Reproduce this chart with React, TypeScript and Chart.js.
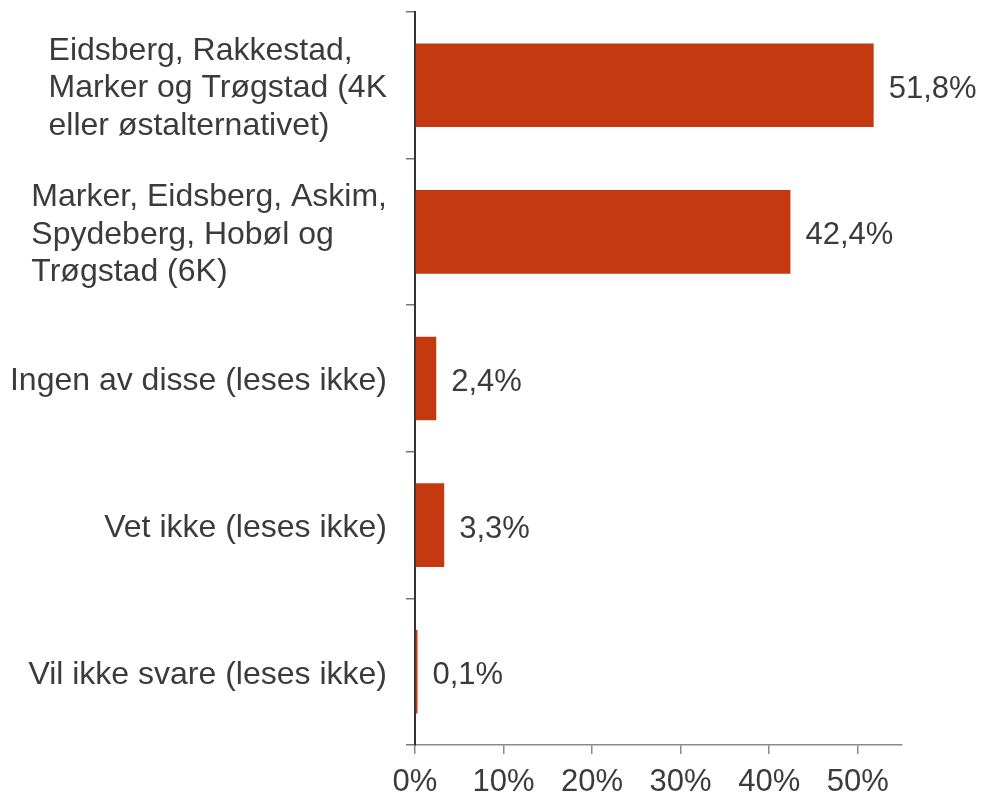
import React, { useEffect, useRef } from "react";
import { Chart, registerables } from "chart.js";

Chart.register(...registerables);

const categories: string[][] = [
  ["Eidsberg, Rakkestad,", "Marker og Trøgstad (4K", "eller østalternativet)"],
  ["Marker, Eidsberg, Askim,", "Spydeberg, Hobøl og", "Trøgstad (6K)"],
  ["Ingen av disse (leses ikke)"],
  ["Vet ikke (leses ikke)"],
  ["Vil ikke svare (leses ikke)"],
];
const values: number[] = [51.8, 42.4, 2.4, 3.3, 0.1];
const valueLabels: string[] = ["51,8%", "42,4%", "2,4%", "3,3%", "0,1%"];
const xTicks: number[] = [0, 10, 20, 30, 40, 50];

const FONT = "'Liberation Sans', Arial, sans-serif";
const TEXT = "#3b3b3b";
const BAR = "#C4390F";

const dataLabelPlugin = {
  id: "dataLabels",
  afterDatasetsDraw(chart: any) {
    const ctx = chart.ctx;
    const meta = chart.getDatasetMeta(0);
    ctx.save();
    ctx.font = `31px ${FONT}`;
    ctx.fillStyle = TEXT;
    ctx.textAlign = "left";
    ctx.textBaseline = "middle";
    meta.data.forEach((bar: any, i: number) => {
      ctx.fillText(valueLabels[i], bar.x + 15, bar.y + 4);
    });
    ctx.restore();
  },
};

const categoryLabelPlugin = {
  id: "categoryLabels",
  afterDraw(chart: any) {
    const ctx = chart.ctx;
    const y = chart.scales.y;
    const lineH = 37.5;
    const rightX = y.right - 28;
    ctx.save();
    ctx.font = `32px ${FONT}`;
    ctx.fillStyle = TEXT;
    ctx.textAlign = "left";
    ctx.textBaseline = "middle";
    categories.forEach((lines, i) => {
      const cy = y.getPixelForValue(i) + 3;
      const w = Math.max(...lines.map((l) => ctx.measureText(l).width));
      const x0 = rightX - w;
      const startY = cy - ((lines.length - 1) * lineH) / 2;
      lines.forEach((l, j) => ctx.fillText(l, x0, startY + j * lineH));
    });
    ctx.restore();
  },
};

export default function App() {
  const ref = useRef<HTMLCanvasElement | null>(null);
  useEffect(() => {
    if (!ref.current) return;
    const chart = new Chart(ref.current, {
      type: "bar",
      data: {
        labels: categories.map((c) => c.join(" ")),
        datasets: [
          {
            data: values,
            backgroundColor: BAR,
            barPercentage: 0.57,
            categoryPercentage: 1,
            minBarLength: 2.5,
          },
        ],
      },
      options: {
        indexAxis: "y",
        animation: false,
        responsive: false,
        maintainAspectRatio: false,
        layout: { padding: { top: 12, right: 81, left: 0, bottom: 0 } },
        plugins: { legend: { display: false }, tooltip: { enabled: false } },
        scales: {
          x: {
            type: "linear",
            min: 0,
            max: 55,
            afterBuildTicks: (scale: any) => {
              scale.ticks = xTicks.map((v) => ({ value: v }));
            },
            afterFit: (scale: any) => {
              scale.height = 51;
              scale.paddingLeft = 0;
              scale.paddingRight = 0;
            },
            border: { display: true, color: "#888888", width: 1.5 },
            grid: {
              drawOnChartArea: false,
              drawTicks: true,
              tickLength: 9,
              color: "#888888",
              lineWidth: 1.5,
            },
            ticks: {
              color: TEXT,
              font: { family: FONT, size: 31 },
              padding: 10,
              maxRotation: 0,
              callback: (v: any) => `${v}%`,
            },
          },
          y: {
            type: "category",
            offset: true,
            afterFit: (scale: any) => {
              scale.width = 415;
              scale.paddingTop = 0;
              scale.paddingBottom = 0;
            },
            border: { display: true, color: "#333333", width: 2 },
            grid: {
              offset: true,
              drawOnChartArea: false,
              drawTicks: true,
              tickLength: 9,
              color: "#777777",
              lineWidth: 1.5,
            },
            ticks: { display: false, autoSkip: false },
          },
        },
      },
      plugins: [dataLabelPlugin, categoryLabelPlugin],
    });
    return () => chart.destroy();
  }, []);
  return (
    <div style={{ position: "fixed", left: 0, top: 0, width: 983, height: 796, background: "#fff" }}>
      <canvas ref={ref} width={983} height={796} style={{ width: 983, height: 796 }} />
    </div>
  );
}
